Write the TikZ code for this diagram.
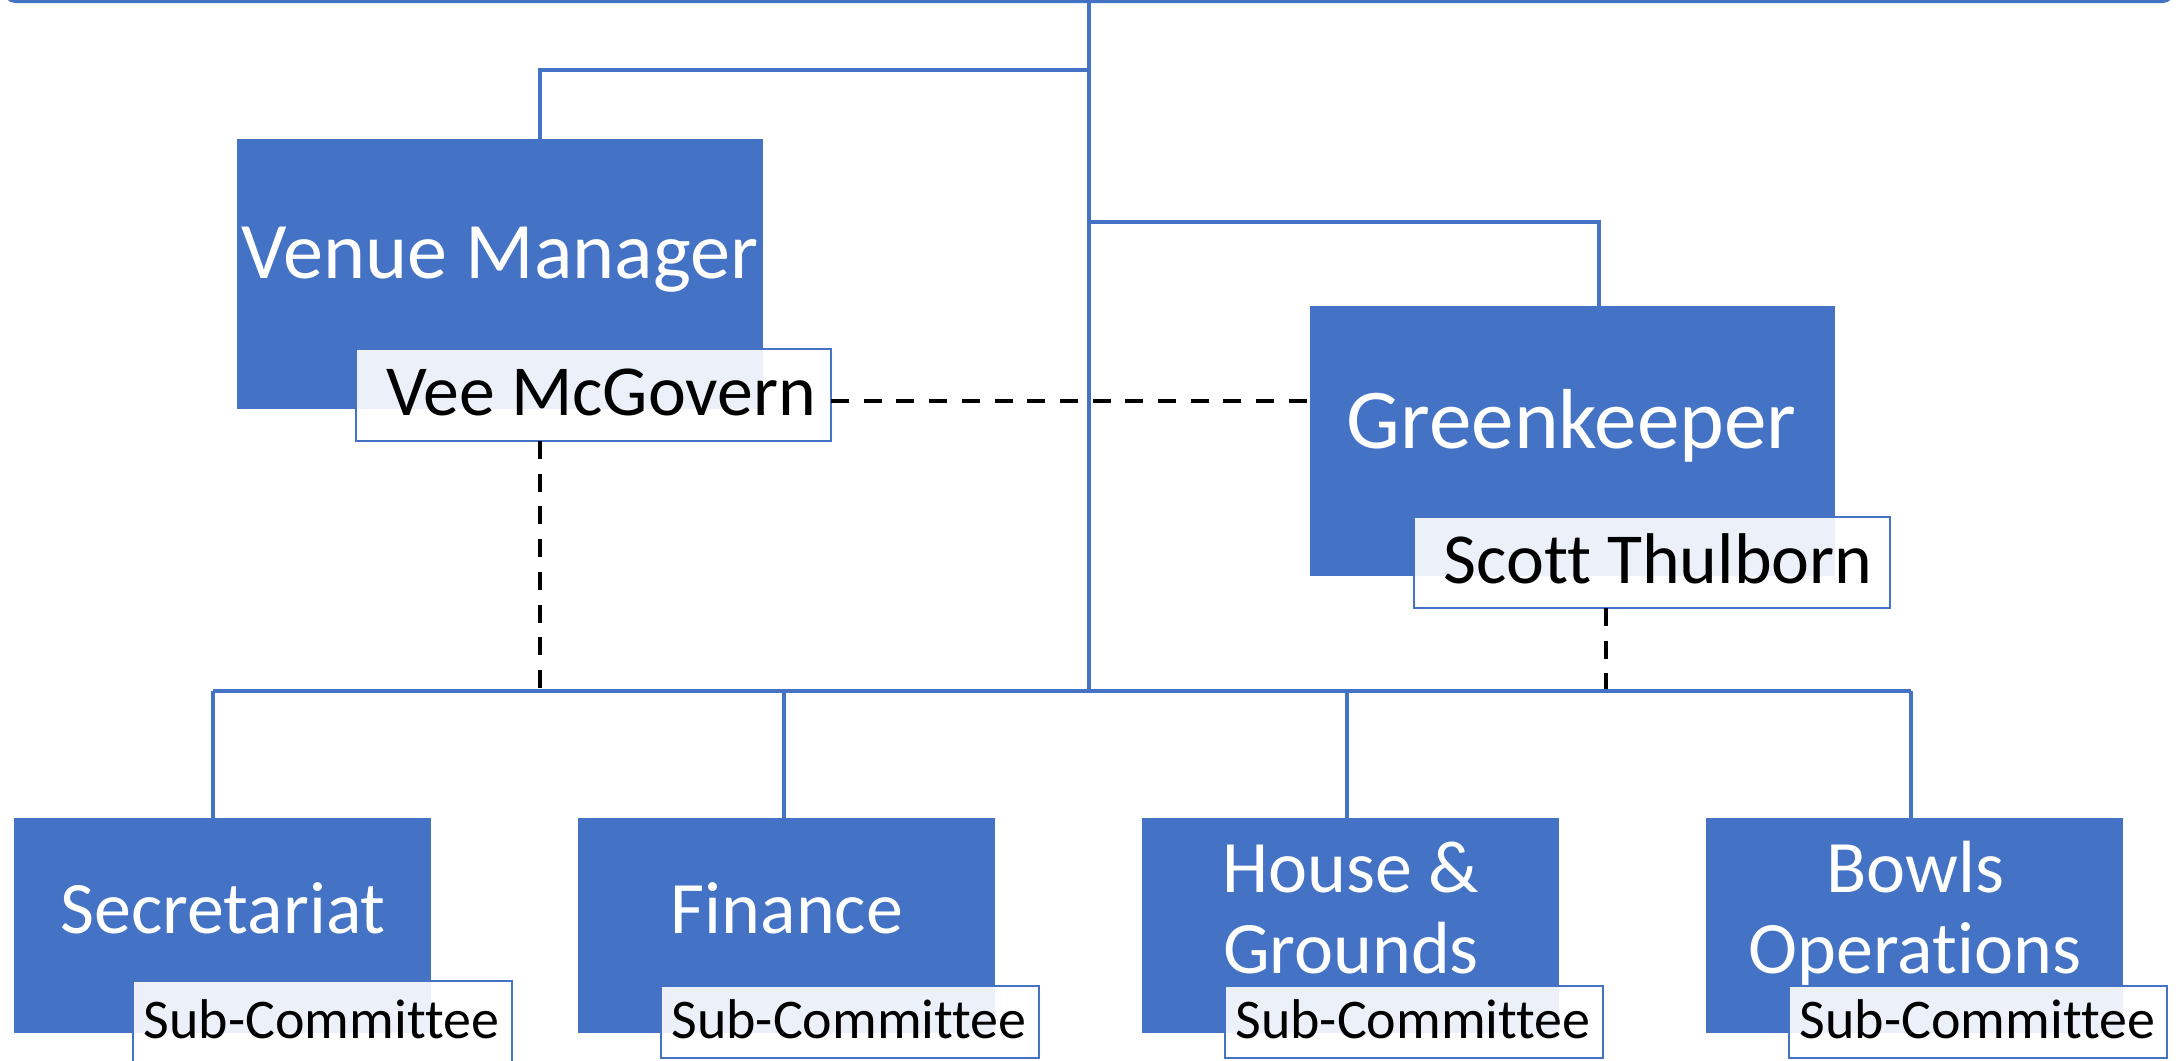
\documentclass[tikz,border=0pt]{standalone}
\usepackage{fontspec}
\setmainfont{Carlito}[Ligatures={NoCommon}]
\definecolor{oblue}{HTML}{4472C4}
\begin{document}
\begin{tikzpicture}[x=0.5pt,y=-0.5pt,
  box/.style={fill=oblue, draw=none, inner sep=0pt, outer sep=0pt},
  namebox/.style={fill=white, fill opacity=0.9, draw=oblue, draw opacity=1, line width=1pt, inner sep=0pt, outer sep=0pt},
  link/.style={draw=oblue, line width=1.6pt},
  dotlink/.style={draw=black, line width=2pt, dash pattern=on 9pt off 7.35pt},
  wtext/.style={text=white, anchor=base, inner sep=0pt},
  btext/.style={text=black, anchor=base, inner sep=0pt},
  mid/.style={font=\fontsize{37pt}{44pt}\selectfont},
  small/.style={font=\fontsize{28pt}{33pt}\selectfont}]
\fill[white] (0,0) rectangle (2178,1060);
\useasboundingbox (0,0) rectangle (2178,1060);
\clip (0,0) rectangle (2178,1060);

% board (cut off at top)
\node (board) [draw=oblue, line width=1.6pt, rounded corners=6pt, minimum width=1085pt, minimum height=100pt, inner sep=0pt, outer sep=0pt] at (1089,-98.5) {};

% helper coordinates
\coordinate (j1) at (1089,70);
\coordinate (j2) at (1089,222);
\coordinate (bus) at (1089,691);
\coordinate (vx) at (540,0);
\coordinate (gx) at (1599,0);
\coordinate (sx) at (1606,0);
\coordinate (dy) at (0,401);
\coordinate (b1) at (213,691);
\coordinate (b2) at (784,691);
\coordinate (b3) at (1347,691);
\coordinate (b4) at (1911,691);

% boxes
\node (venue) [box, minimum width=263pt, minimum height=135pt] at (500,274) {};
\node (gk) [box, minimum width=262.5pt, minimum height=135pt] at (1572.5,441) {};
\node (sec) [box, minimum width=208.5pt, minimum height=107.5pt] at (222.5,925.5) {};
\node (fin) [box, minimum width=208.5pt, minimum height=107.5pt] at (786.5,925.5) {};
\node (hg) [box, minimum width=208.5pt, minimum height=107.5pt] at (1350.5,925.5) {};
\node (bo) [box, minimum width=208.5pt, minimum height=107.5pt] at (1914,925.5) {};

% name boxes
\node (vee) [namebox, minimum width=237.5pt, minimum height=46pt] at (593.5,395) {};
\node (scott) [namebox, minimum width=238pt, minimum height=45.5pt] at (1652,562.5) {};
\node (secs) [namebox, minimum width=189.5pt, minimum height=41pt] at (322.5,1022) {};
\node (fins) [namebox, minimum width=189pt, minimum height=36pt] at (850,1022) {};
\node (hgs) [namebox, minimum width=189pt, minimum height=36pt] at (1414,1022) {};
\node (bos) [namebox, minimum width=189pt, minimum height=36pt] at (1978,1022) {};

% dashed links
\draw[dotlink] (vee.east |- dy) -- (gk.west |- dy);
\draw[dotlink] (vee.south -| vx) -- (vx |- bus);
\draw[dotlink] (scott.south -| sx) -- (sx |- bus);

% solid links
\draw[link] (board.south) -- (bus);
\draw[link] (j1) -| (venue.north -| vx);
\draw[link] (j2) -| (gk.north -| gx);
\draw[link] (b1) -- (b4);
\draw[link] (b1) -- (sec.north -| b1);
\draw[link] (b2) -- (fin.north -| b2);
\draw[link] (b3) -- (hg.north -| b3);
\draw[link] (b4) -- (bo.north -| b4);

% texts
\node (t1) [wtext, font=\fontsize{40.1pt}{48pt}\selectfont] at (500,278) {Venue Manager};
\node (t2) [wtext, font=\fontsize{42.6pt}{50pt}\selectfont] at (1571.5,448.6) {Greenkeeper};
\node (t3) [btext, font=\fontsize{35.9pt}{42pt}\selectfont] at (601,415) {Vee McGovern};
\node (t4) [btext, font=\fontsize{35.9pt}{42pt}\selectfont] at (1658,583) {Scott Thulborn};
\node (t5) [wtext, mid] at (223,933) {Secretariat};
\node (t6) [wtext, mid] at (787,933) {Finance};
\node (t7) [wtext, mid] at (1351,892) {House \&};
\node (t8) [wtext, mid] at (1351,973) {Grounds};
\node (t9) [wtext, mid] at (1915,892) {Bowls};
\node (t10) [wtext, mid] at (1915,973) {Operations};
\node (s1) [btext, small] at (321.5,1038) {Sub-Committee};
\node (s2) [btext, small] at (849,1038) {Sub-Committee};
\node (s3) [btext, small] at (1413,1038) {Sub-Committee};
\node (s4) [btext, small] at (1977.5,1038) {Sub-Committee};
\end{tikzpicture}
\end{document}
